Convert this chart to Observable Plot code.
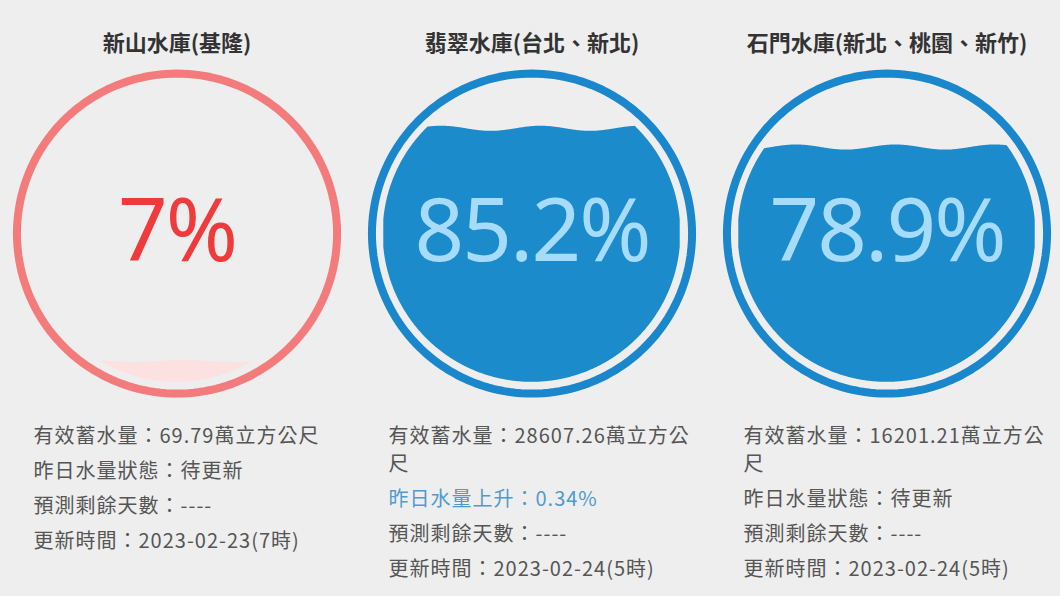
<!DOCTYPE html>
<html><head><meta charset="utf-8">
<script src="https://cdn.jsdelivr.net/npm/d3@7"></script>
<script src="https://cdn.jsdelivr.net/npm/@observablehq/plot@0.6"></script>
<style>
body{margin:0;background:#eeeeee;width:1060px;height:596px;overflow:hidden;font-family:"Noto Sans CJK TC","Noto Sans",sans-serif;}
#info{position:relative;height:186px}
.col{position:absolute;top:11px;width:312px;font-size:20px;letter-spacing:1px;line-height:28px;color:#555}
.col div{margin-bottom:7px}
.col .rise{color:#4f9ad3}
</style></head><body><div id="chart"></div><div id="info"></div>
<script>
// ---- data ----
const reservoirs = ["新山水庫(基隆)", "翡翠水庫(台北、新北)", "石門水庫(新北、桃園、新竹)"];
const percents = [7, 85.2, 78.9];
const storage = ["69.79", "28607.26", "16201.21"]; // 萬立方公尺
const yesterdayChange = [null, 0.34, null];   // 昨日水量上升 (%), null = 待更新
const remainDays = ["----", "----", "----"];
const updated = ["2023-02-23(7時)", "2023-02-24(5時)", "2023-02-24(5時)"];

// ---- styling helpers ----
const low = p => p < 20;
const ringColor = p => low(p) ? "#f47b7b" : "#1a87cc";
const waterColor = p => low(p) ? "#fde0e0" : "#1b8bcc";
const textColor = p => low(p) ? "#ef3b3b" : "#a6dcfa";
const INNER = 0.93;

const table = reservoirs.map((name, i) => ({name, p: percents[i]}));

const ring = [];
for (const d of table) {
  for (let a = 0; a <= 360; a += 2) {
    const t = a * Math.PI / 180;
    ring.push({name: d.name, x: Math.cos(t), y: Math.sin(t), color: ringColor(d.p)});
  }
}

const water = [];
for (const d of table) {
  const L = -INNER + 2 * INNER * d.p / 100;
  const amp = low(d.p) ? 0.006 : 0.016;
  for (let x = -INNER; x <= INNER + 1e-9; x += 0.004) {
    const half = Math.sqrt(Math.max(0, INNER * INNER - x * x));
    const wave = L + amp * Math.sin(2 * Math.PI * (x + 0.1) / 0.62);
    const y2 = Math.min(half, wave), y1 = -half;
    if (y2 > y1) water.push({name: d.name, x, y1, y2, color: waterColor(d.p)});
  }
}

const chart = Plot.plot({
  width: 1060, height: 410,
  marginLeft: -1.5, marginRight: -3.5, marginTop: 62, marginBottom: 0,
  style: {background: "transparent", fontFamily: "'Noto Sans CJK TC', sans-serif"},
  x: {domain: [-1.109, 1.109], axis: null},
  y: {domain: [-1.106, 1.069], axis: null},
  fx: {domain: reservoirs, padding: 0},
  marks: [
    Plot.axisFx({anchor: "top", label: null, tickSize: 0, tickPadding: 12, fontSize: 22, fontWeight: "bold", color: "#333"}),
    Plot.areaY(water, {fx: "name", x: "x", y1: "y1", y2: "y2", z: "name", fill: "color"}),
    Plot.line(ring, {fx: "name", x: "x", y: "y", z: "name", stroke: "color", strokeWidth: 8}),
    Plot.text(table, {fx: "name", x: () => 0, y: () => 0, text: d => d.p + "%", fill: d => textColor(d.p),
      fontSize: 87, fontFamily: "'Noto Sans', sans-serif", lineAnchor: "middle", className: "pct"})
  ]
});
document.getElementById("chart").appendChild(chart);
d3.select(chart).selectAll(".pct text").attr("letter-spacing", -2);

// info columns aligned to facet bands
const fx = chart.scale("fx");
const info = d3.select("#info");
reservoirs.forEach((name, i) => {
  const center = fx.apply(name) + fx.bandwidth / 2;
  const col = info.append("div").attr("class", "col").style("left", (center - 143) + "px");
  col.append("div").text("有效蓄水量：" + storage[i] + "萬立方公尺");
  if (yesterdayChange[i] == null) col.append("div").text("昨日水量狀態：待更新");
  else col.append("div").attr("class", "rise").text("昨日水量上升：" + yesterdayChange[i] + "%");
  col.append("div").text("預測剩餘天數：" + remainDays[i]);
  col.append("div").text("更新時間：" + updated[i]);
});
</script></body></html>
